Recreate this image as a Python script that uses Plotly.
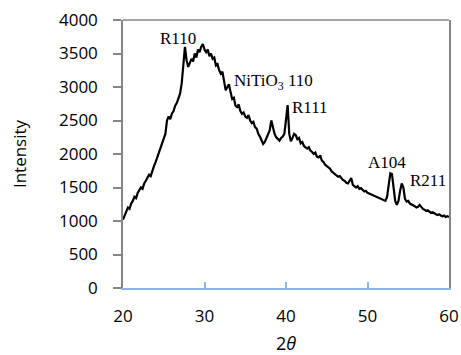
import plotly.graph_objects as go

two_theta = [20.0,20.2,20.4,20.6,20.8,21.0,21.2,21.4,21.6,21.8,22.0,22.2,22.4,22.6,22.8,23.0,23.2,23.4,23.6,23.8,
             24.0,24.2,24.4,24.6,24.8,25.0,25.2,25.4,25.6,25.8,26.0,26.2,26.4,26.6,26.8,27.0,27.2,27.4,27.6,27.8,
             28.0,28.2,28.4,28.6,28.8,29.0,29.2,29.4,29.6,29.8,30.0,30.2,30.4,30.6,30.8,31.0,31.2,31.4,31.6,31.8,
             32.0,32.2,32.4,32.6,32.8,33.0,33.2,33.4,33.6,33.8,34.0,34.2,34.4,34.6,34.8,35.0,35.2,35.4,35.6,35.8,
             36.0,36.2,36.4,36.6,36.8,37.0,37.2,37.4,37.6,37.8,38.0,38.2,38.4,38.6,38.8,39.0,39.2,39.4,39.6,39.8,
             40.0,40.2,40.4,40.6,40.8,41.0,41.2,41.4,41.6,41.8,42.0,42.2,42.4,42.6,42.8,43.0,43.2,43.4,43.6,43.8,
             44.0,44.2,44.4,44.6,44.8,45.0,45.2,45.4,45.6,45.8,46.0,46.2,46.4,46.6,46.8,47.0,47.2,47.4,47.6,47.8,
             48.0,48.2,48.4,48.6,48.8,49.0,49.2,49.4,49.6,49.8,50.0,50.2,50.4,50.6,50.8,51.0,51.2,51.4,51.6,51.8,
             52.0,52.2,52.4,52.6,52.8,53.0,53.2,53.4,53.6,53.8,54.0,54.2,54.4,54.6,54.8,55.0,55.2,55.4,55.6,55.8,
             56.0,56.2,56.4,56.6,56.8,57.0,57.2,57.4,57.6,57.8,58.0,58.2,58.4,58.6,58.8,59.0,59.2,59.4,59.6,59.8,60.0]

intensity = [1020,1080,1150,1200,1180,1260,1300,1360,1340,1420,1460,1500,1480,1560,1600,1640,1690,1670,1760,1820,
             1880,1950,2000,2090,2130,2200,2300,2500,2560,2520,2600,2640,2720,2760,2850,2900,3050,3320,3600,3400,
             3300,3360,3420,3380,3500,3440,3560,3520,3600,3640,3560,3520,3560,3460,3500,3420,3440,3320,3340,3250,
             3200,3230,3100,2950,3000,3040,2920,2820,2840,2720,2700,2740,2640,2600,2620,2560,2540,2580,2500,2460,
             2480,2400,2380,2300,2260,2200,2150,2180,2240,2280,2350,2500,2380,2300,2250,2220,2200,2240,2260,2300,
             2500,2730,2300,2190,2240,2300,2280,2220,2240,2160,2180,2120,2100,2080,2100,2050,2030,2000,2020,1960,
             1950,1980,1900,1880,1840,1820,1790,1780,1740,1720,1700,1690,1660,1670,1640,1610,1600,1570,1560,1610,
             1640,1540,1520,1500,1520,1480,1490,1460,1440,1450,1420,1410,1400,1390,1380,1370,1360,1350,1340,1330,
             1320,1300,1360,1520,1710,1700,1500,1300,1240,1300,1450,1560,1500,1330,1290,1300,1260,1250,1230,1220,
             1200,1210,1240,1200,1180,1170,1150,1160,1140,1120,1130,1110,1100,1090,1100,1080,1070,1080,1060,1070,1060]

x_ticks = [20, 30, 40, 50, 60]
y_ticks = [0, 500, 1000, 1500, 2000, 2500, 3000, 3500, 4000]

peak_labels = ["R110", "NiTiO<sub>3</sub> 110", "R111", "A104", "R211"]
peak_x = [26.75, 33.4, 40.5, 52.4, 57.4]
peak_y = [3731, 3075, 2687, 1880, 1612]
peak_anchor = ["center", "left", "left", "center", "center"]

fig = go.Figure()
fig.add_trace(go.Scatter(x=two_theta, y=intensity, mode="lines",
                         line=dict(color="black", width=2.2), showlegend=False))

for lab, px, py, anc in zip(peak_labels, peak_x, peak_y, peak_anchor):
    fig.add_annotation(x=px, y=py, text=lab, showarrow=False, xanchor=anc, yanchor="middle",
                       font=dict(family="Liberation Serif", size=17, color="black"))

fig.add_shape(type="line", xref="paper", yref="paper", x0=0, x1=1, y0=1, y1=1,
              line=dict(color="#868686", width=1.5))

fig.update_layout(
    width=461, height=355,
    margin=dict(l=123, r=12, t=20, b=67, autoexpand=False),
    paper_bgcolor="white", plot_bgcolor="white",
    font=dict(family="Open Sans", size=17, color="black"),
)
fig.update_xaxes(range=[20, 60], tickvals=x_ticks, showgrid=False, zeroline=False,
                 showline=True, linecolor="#8EB4E3", linewidth=2, automargin=False,
                 ticks="inside", tickcolor="#8EB4E3", ticklen=6, tickwidth=1.5,
                 ticklabelstandoff=12,
                 title=dict(text="2<i>θ</i>", standoff=25, font=dict(size=18)))
fig.update_yaxes(range=[0, 4000], tickvals=y_ticks, showgrid=False, zeroline=False,
                 showline=True, linecolor="#868686", linewidth=1.5, mirror=True, automargin=False,
                 ticks="outside", tickcolor="#868686", ticklen=8, tickwidth=1.5,
                 ticklabelstandoff=12,
                 title=dict(text="Intensity", standoff=28, font=dict(size=17)))

fig.write_html("out.html")
